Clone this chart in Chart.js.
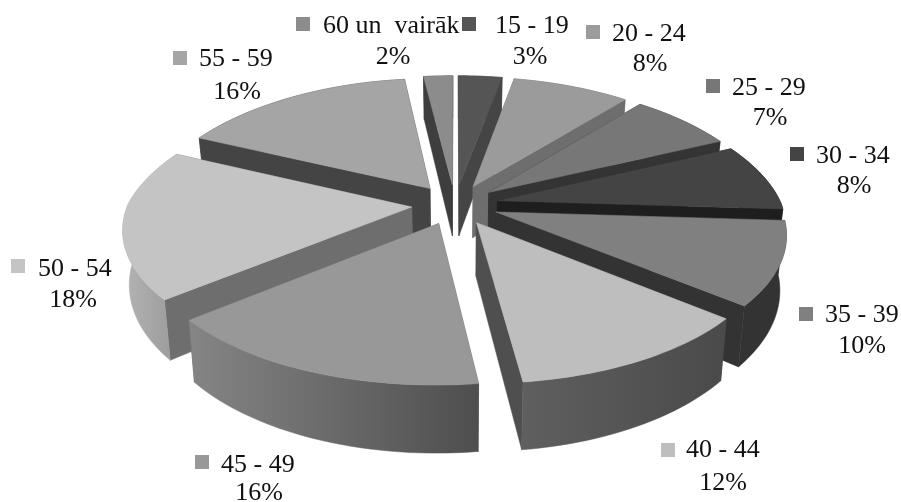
<!DOCTYPE html>
<html lang="lv">
<head>
<meta charset="utf-8">
<title>Vecuma grupas</title>
<style>
  html, body { margin: 0; padding: 0; background: #fff; }
  canvas { display: block; }
</style>
</head>
<body>
<canvas id="chartAge" width="901" height="502"></canvas>
<script src="https://cdn.jsdelivr.net/npm/chart.js@4/dist/chart.umd.js"></script>
<script>
// Age groups and their share, clockwise from 12 o'clock
const ageGroups = ['15 - 19', '20 - 24', '25 - 29', '30 - 34', '35 - 39', '40 - 44', '45 - 49', '50 - 54', '55 - 59', '60 un  vairāk'];
const shares = [3, 8, 7, 8, 10, 12, 16, 18, 16, 2];

// Slice colours
const topColors = ['#555555', '#9b9b9b', '#777777', '#444444', '#808080', '#bebebe', '#989898', '#c4c4c4', '#a5a5a5', '#8c8c8c'];
const sideColors = ['#454545', '#6e6e6e', '#343434', '#1e1e1e', '#333333', '#4f4f4f', '#606060', '#6e6e6e', '#444444', '#3e3e3e'];
const rimFrom = ['#454545', '#6e6e6e', '#343434', '#1e1e1e', '#333333', '#5f5f5f', '#858585', '#b4b4b4', '#444444', '#3e3e3e'];
const rimTo = ['#454545', '#6e6e6e', '#343434', '#1e1e1e', '#333333', '#4a4a4a', '#4e4e4e', '#9a9a9a', '#444444', '#3e3e3e'];

// Where each legend entry sits: swatch left/top, text left/baseline, percent centre/baseline
const labelLayout = [
  [462, 17, 495, 33, 530, 64],
  [586, 25, 612, 41, 650, 71],
  [706, 79, 732, 95, 770, 125],
  [790, 147, 816, 163, 854, 193],
  [799, 307, 825, 322, 862, 353],
  [661, 443, 686, 457, 723, 490],
  [195, 455, 221, 472, 259, 500],
  [11, 259, 38, 276, 73, 307],
  [173, 51, 199, 66, 237, 99],
  [296, 17, 323, 33, 393, 64]
];

// Camera used to lay the pie down: unit disc -> screen
const view = { cx: 455, cy: 204.5, rx: 284, ry: 131, persp: 0.15, perspBack: 0.19, depth: 52.5, depthPersp: 0.2, shrink: 0.98, explode: 0.153 };

function projectTop(u, v) {
  const w = 1 + view.persp * v;
  // the far half narrows a little faster sideways
  const wx = 1 + (v > 0 ? view.perspBack : view.persp) * v;
  return { x: view.cx + view.rx * u / wx, y: view.cy - view.ry * v / w };
}

function projectBottom(u, v) {
  const p = projectTop(u, v);
  return {
    x: view.cx + (p.x - view.cx) * view.shrink,
    y: p.y + view.depth / (1 + view.depthPersp * v)
  };
}

function fillPoly(ctx, pts, color) {
  ctx.beginPath();
  pts.forEach((p, i) => (i ? ctx.lineTo(p.x, p.y) : ctx.moveTo(p.x, p.y)));
  ctx.closePath();
  ctx.fillStyle = color;
  ctx.fill();
  // hairline in the same fill closes antialiasing seams
  ctx.strokeStyle = color;
  ctx.lineWidth = 0.5;
  ctx.stroke();
}

function drawSlice(ctx, arc, i) {
  // Chart.js angles start at -PI/2, here they count clockwise from the top
  const a0 = arc.startAngle + Math.PI / 2;
  const a1 = arc.endAngle + Math.PI / 2;
  const mid = (a0 + a1) / 2;
  const ox = Math.sin(mid) * view.explode;
  const oy = Math.cos(mid) * view.explode;

  const rim = [];
  const steps = Math.max(2, Math.ceil((a1 - a0) / 0.03));
  for (let s = 0; s <= steps; s++) {
    const a = a0 + (a1 - a0) * s / steps;
    rim.push([ox + Math.sin(a), oy + Math.cos(a)]);
  }
  const first = rim[0];
  const last = rim[rim.length - 1];

  // radial walls
  [first, last].forEach(end => {
    fillPoly(ctx, [
      projectTop(ox, oy), projectTop(end[0], end[1]),
      projectBottom(end[0], end[1]), projectBottom(ox, oy)
    ], sideColors[i]);
  });

  // outer wall, shaded across its width
  const rimTop = rim.map(p => projectTop(p[0], p[1]));
  const rimBottom = rim.map(p => projectBottom(p[0], p[1])).reverse();
  const xs = rimTop.map(p => p.x);
  const grad = ctx.createLinearGradient(Math.min(...xs), 0, Math.max(...xs), 0);
  grad.addColorStop(0, rimFrom[i]);
  grad.addColorStop(1, rimTo[i]);
  fillPoly(ctx, rimTop.concat(rimBottom), grad);

  // top face
  fillPoly(ctx, [projectTop(ox, oy)].concat(rimTop), arc.options.backgroundColor);
}

const pie3d = {
  id: 'pie3d',
  beforeDatasetDraw(chart) {
    const ctx = chart.ctx;
    const arcs = chart.getDatasetMeta(0).data;
    // back slices first so the front ones overlap them
    const order = arcs.map((arc, i) => i).sort((a, b) => {
      const mid = arc => (arc.startAngle + arc.endAngle) / 2 + Math.PI / 2;
      return Math.cos(mid(arcs[b])) - Math.cos(mid(arcs[a]));
    });
    ctx.save();
    order.forEach(i => drawSlice(ctx, arcs[i], i));
    ctx.restore();
    return false;
  }
};

const ageLabels = {
  id: 'ageLabels',
  afterDraw(chart) {
    const ctx = chart.ctx;
    ctx.save();
    ctx.font = '26px "Liberation Serif"';
    ctx.textBaseline = 'alphabetic';
    ageGroups.forEach((name, i) => {
      const [sx, sy, tx, ty, px, py] = labelLayout[i];
      ctx.fillStyle = topColors[i];
      ctx.fillRect(sx, sy, 14, 14);
      ctx.fillStyle = '#111';
      ctx.textAlign = 'left';
      ctx.fillText(name, tx, ty);
      ctx.textAlign = 'center';
      ctx.fillText(shares[i] + '%', px, py);
    });
    ctx.restore();
  }
};

new Chart(document.getElementById('chartAge'), {
  type: 'pie',
  data: {
    labels: ageGroups,
    datasets: [{ data: shares, backgroundColor: topColors, borderWidth: 0 }]
  },
  options: {
    responsive: false,
    animation: false,
    plugins: { legend: { display: false }, tooltip: { enabled: false } }
  },
  plugins: [pie3d, ageLabels]
});
</script>
</body>
</html>
